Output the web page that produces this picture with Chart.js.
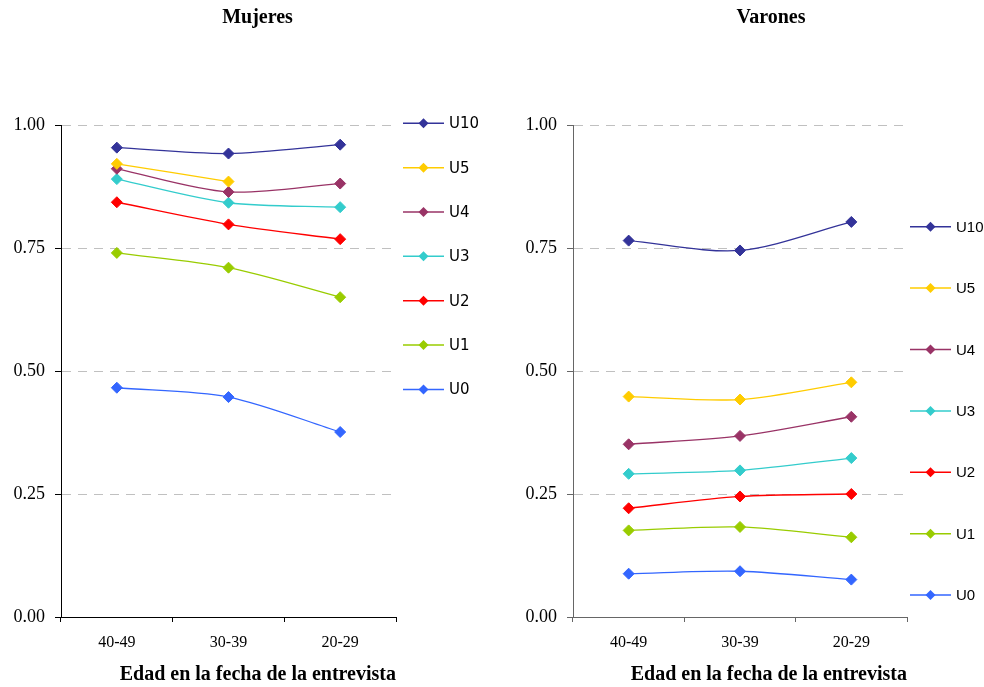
<!DOCTYPE html>
<html>
<head>
<meta charset="utf-8">
<script src="https://cdn.jsdelivr.net/npm/chart.js@4.4.0/dist/chart.umd.min.js"></script>
<style>
  html, body { margin: 0; padding: 0; background: #fff; overflow: hidden; }
  body { width: 984px; height: 687px; position: relative; }
  canvas { position: absolute; top: 0; }
  #mujeres { left: 0; }
  #varones { left: 492px; }
</style>
</head>
<body>
<canvas id="mujeres" width="515" height="687"></canvas>
<canvas id="varones" width="558" height="687"></canvas>
<script>
// categorias y series
const ageGroups = ['40-49', '30-39', '20-29'];
const seriesNames = ['U10', 'U5', 'U4', 'U3', 'U2', 'U1', 'U0'];
const seriesColors = ['#333399', '#FFCC00', '#993366', '#33CCCC', '#FF0000', '#99CC00', '#3366FF'];
const yTicks = [0, 0.25, 0.5, 0.75, 1];

// Mujeres
const mujU10 = [0.954, 0.942, 0.960];
const mujU5  = [0.921, 0.885, null];
const mujU4  = [0.911, 0.864, 0.881];
const mujU3  = [0.890, 0.842, 0.833];
const mujU2  = [0.843, 0.798, 0.768];
const mujU1  = [0.740, 0.710, 0.650];
const mujU0  = [0.466, 0.447, 0.376];

// Varones
const varU10 = [0.765, 0.745, 0.803];
const varU5  = [0.448, 0.442, 0.477];
const varU4  = [0.351, 0.368, 0.407];
const varU3  = [0.291, 0.298, 0.323];
const varU2  = [0.221, 0.245, 0.250];
const varU1  = [0.176, 0.183, 0.162];
const varU0  = [0.088, 0.093, 0.076];

const mujData = [mujU10, mujU5, mujU4, mujU3, mujU2, mujU1, mujU0];
const varData = [varU10, varU5, varU4, varU3, varU2, varU1, varU0];

// leyenda vertical con linea + rombo
const sideLegend = {
  id: 'sideLegend',
  afterDraw(chart, args, opts) {
    const ctx = chart.ctx;
    chart.data.datasets.forEach((ds, i) => {
      const y = opts.top + i * opts.gap;
      const mx = opts.x + opts.lineLen / 2;
      ctx.save();
      ctx.strokeStyle = ds.borderColor;
      ctx.lineWidth = 1.5;
      ctx.beginPath();
      ctx.moveTo(opts.x, y);
      ctx.lineTo(opts.x + opts.lineLen, y);
      ctx.stroke();
      ctx.fillStyle = ds.borderColor;
      ctx.beginPath();
      ctx.moveTo(mx, y - opts.r);
      ctx.lineTo(mx + opts.r, y);
      ctx.lineTo(mx, y + opts.r);
      ctx.lineTo(mx - opts.r, y);
      ctx.closePath();
      ctx.fill();
      ctx.fillStyle = '#000';
      ctx.font = opts.font;
      ctx.textBaseline = 'middle';
      ctx.textAlign = 'left';
      ctx.fillText(ds.label, opts.x + opts.lineLen + 5, y + 1);
      ctx.restore();
    });
  }
};

function makeDatasets(values) {
  return seriesNames.map((name, i) => ({
    label: name,
    data: values[i],
    borderColor: seriesColors[i],
    backgroundColor: seriesColors[i],
    borderWidth: 1.3,
    tension: 0.3,
    spanGaps: false,
    pointStyle: 'rectRot',
    pointRadius: 5.5,
    pointBorderWidth: 1,
    pointHoverRadius: 5.5
  }));
}

function makeChart(id, title, values, yWidth, rightSpace, axisColor, legendOpts) {
  const ctx = document.getElementById(id).getContext('2d');
  return new Chart(ctx, {
    type: 'line',
    data: { labels: ageGroups, datasets: makeDatasets(values) },
    options: {
      responsive: false,
      animation: false,
      devicePixelRatio: 1,
      layout: { padding: 0 },
      plugins: {
        legend: { display: false },
        tooltip: { enabled: false },
        title: {
          display: true,
          text: title,
          color: '#000',
          font: { family: 'Liberation Serif', size: 20, weight: 'bold' },
          padding: { top: 6, bottom: 95 }
        },
        sideLegend: legendOpts
      },
      scales: {
        x: {
          offset: true,
          afterFit: s => { s.height = 70; },
          grid: { offset: true, drawOnChartArea: false, drawTicks: true, tickLength: 5, tickColor: axisColor },
          border: { color: axisColor, width: 1 },
          ticks: { color: '#000', padding: 11, font: { family: 'Liberation Serif', size: 16 } },
          title: {
            display: true,
            text: 'Edad en la fecha de la entrevista',
            align: 'end',
            color: '#000',
            font: { family: 'Liberation Serif', size: 20, weight: 'bold' },
            padding: { top: 0, bottom: 0 }
          }
        },
        y: {
          min: 0,
          max: 1,
          afterFit: s => { s.width = yWidth; },
          afterBuildTicks: s => { s.ticks = yTicks.map(v => ({ value: v })); },
          grid: { color: '#c0c0c0', lineWidth: 1, tickLength: 6, tickColor: axisColor, tickBorderDash: [] },
          border: { color: axisColor, width: 1, dash: [9, 7] },
          ticks: {
            color: '#000',
            padding: 10,
            font: { family: 'Liberation Serif', size: 18 },
            callback: v => Number(v).toFixed(2)
          }
        },
        // espacio vacio a la derecha para la leyenda
        legendSpace: {
          position: 'right',
          afterFit: s => { s.width = rightSpace; },
          grid: { display: false },
          border: { display: false },
          ticks: { display: false }
        }
      }
    },
    plugins: [sideLegend]
  });
}

makeChart('mujeres', 'Mujeres', mujData, 61, 119, '#000',
  { x: 403, lineLen: 41, top: 123.3, gap: 44.35, r: 5, font: '15px "DejaVu Sans"' });
makeChart('varones', 'Varones', varData, 81, 143, '#666',
  { x: 418, lineLen: 41, top: 226.7, gap: 61.4, r: 5, font: '15px "Liberation Sans"' });
</script>
</body>
</html>
